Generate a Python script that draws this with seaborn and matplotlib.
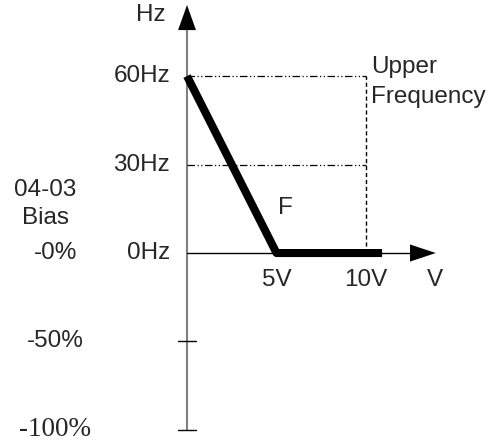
import matplotlib
matplotlib.use("Agg")
import matplotlib.pyplot as plt
import seaborn as sns
import pandas as pd

# curve F: volts -> Hz
volts = [0, 5, 10.9]
freq = [60, 0, 0]

hz_ticks = [60, 30, 0]
hz_labels = ["60Hz", "30Hz", "0Hz"]
v_ticks = [5, 10]
v_labels = ["5V", "10V"]
bias_ticks = [0, -30, -60]
bias_labels = ["-0%", "-50%", "-100%"]
upper_v = 10

sns.set_style("white")
plt.rcParams["font.family"] = ["Liberation Sans", "DejaVu Sans"]

fig = plt.figure(figsize=(4.97, 4.45), dpi=100)
ax = fig.add_axes([0, 0, 1, 1])

# axes lines
ax.plot([0, 0], [-60, 76], color="#808080", lw=1.5, zorder=1)
ax.plot([0, 12.6], [0, 0], color="black", lw=1.0, zorder=1)
ax.fill([-0.5, 0.5, 0], [75.6, 75.6, 84.1], color="black", lw=0)
ax.fill([12.46, 12.46, 13.9], [-2.9, 2.9, 0], color="black", lw=0)
for b in bias_ticks[1:]:
    ax.plot([-0.5, 0.5], [b, b], color="black", lw=1.0)

# guide lines
dd = (6, 2, 1, 2, 1, 2)
for h in hz_ticks[:2]:
    ax.plot([0, upper_v], [h, h], color="black", lw=0.9, dashes=dd)
ax.plot([upper_v, upper_v], [0, 60], color="black", lw=1.0, dashes=(3, 2))

df = pd.DataFrame({"V": volts, "Hz": freq})
sns.lineplot(data=df, x="V", y="Hz", ax=ax, color="black", lw=5.8,
             sort=False, estimator=None, zorder=3, solid_capstyle="butt")
ax.set_xlim(-10.45, 17.32)
ax.set_ylim(-65.1, 85.8)
ax.axis("off")

fs = 17.5
for h, lab in zip(hz_ticks, hz_labels):
    ax.text(-0.95, h, lab, ha="right", va="center", fontsize=fs)
for v, lab in zip(v_ticks, v_labels):
    ax.text(v, -9.3, lab, ha="center", va="center", fontsize=fs)
for b, lab in zip(bias_ticks, bias_labels):
    if lab == "-100%":
        ax.text(-7.4, b, lab, ha="center", va="center", fontsize=19.5,
                family=["Liberation Serif"])
    else:
        ax.text(-7.35, b, lab, ha="center", va="center", fontsize=fs)

ax.text(-2.05, 80.7, "Hz", ha="center", va="center", fontsize=fs)
ax.text(13.85, -9.3, "V", ha="center", va="center", fontsize=fs)
ax.text(5.5, 15.3, "F", ha="center", va="center", fontsize=fs)
ax.text(10.3, 63, "Upper", ha="left", va="center", fontsize=fs)
ax.text(10.3, 52.9, "Frequency", ha="left", va="center", fontsize=fs)
ax.text(-7.9, 21.4, "04-03", ha="center", va="center", fontsize=fs)
ax.text(-7.9, 11.9, "Bias", ha="center", va="center", fontsize=fs)

fig.savefig("out.png", dpi=100)
